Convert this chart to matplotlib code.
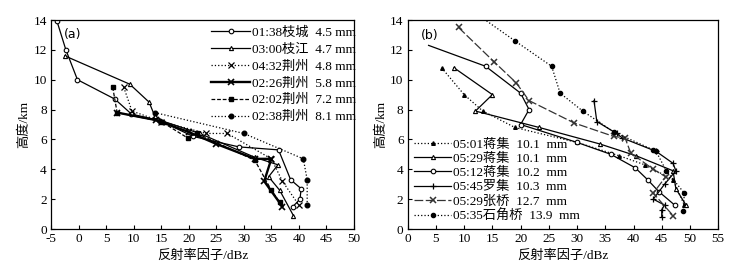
import matplotlib
matplotlib.use("Agg")
import matplotlib.pyplot as plt

plt.rcParams['font.family'] = ['Liberation Serif', 'Noto Sans CJK SC', 'DejaVu Sans']
plt.rcParams['font.size'] = 9
plt.rcParams['axes.unicode_minus'] = False

# ---------- panel (a) data ----------
a_labels = ["01:38枝城  4.5 mm", "03:00枝江  4.7 mm", "04:32荆州  4.8 mm",
            "02:26荆州  5.8 mm", "02:02荆州  7.2 mm", "02:38荆州  8.1 mm"]
a1_x = [-3.9, -2.3, -0.2, 6.6, 9.6, 14.8, 20.8, 29.1, 36.3, 38.5, 40.4, 40.2, 38.9]
a1_y = [13.9, 12.0, 10.0, 8.7, 7.7, 7.25, 6.2, 5.5, 5.3, 3.3, 2.7, 2.0, 1.5]
a2_x = [-2.5, 9.3, 12.8, 13.8, 15.5, 22.0, 32.0, 36.2, 34.5, 36.5, 39.0]
a2_y = [11.6, 9.7, 8.5, 7.6, 7.2, 6.4, 4.8, 4.3, 3.5, 2.6, 0.9]
a3_x = [8.2, 9.7, 15.0, 23.2, 27.0, 35.0, 37.0, 40.0]
a3_y = [9.5, 7.9, 7.2, 6.4, 6.4, 4.7, 3.2, 1.6]
a4_x = [7.0, 14.0, 20.0, 25.0, 32.0, 35.0, 33.7, 37.0]
a4_y = [7.8, 7.3, 6.5, 5.7, 4.7, 4.7, 3.2, 1.5]
a5_x = [6.2, 7.0, 15.0, 19.8, 21.5, 32.0, 35.0, 36.5]
a5_y = [9.5, 7.8, 7.2, 6.1, 6.4, 4.6, 2.6, 1.8]
a6_x = [13.8, 30.0, 40.8, 41.5, 41.5]
a6_y = [7.8, 6.4, 4.7, 3.3, 1.6]

# ---------- panel (b) data ----------
b_labels = ["05:01蒋集  10.1  mm", "05:29蒋集  10.1  mm", "05:12蒋集  10.2  mm",
            "05:45罗集  10.3  mm", "05:29张桥  12.7  mm", "05:35石角桥  13.9  mm"]
b1_x = [6.0, 10.0, 13.3, 19.0, 30.0, 37.5, 42.0, 47.0, 49.0]
b1_y = [10.8, 9.0, 7.9, 6.8, 5.8, 4.9, 4.3, 3.3, 1.6]
b2_x = [8.2, 15.0, 12.0, 23.3, 34.0, 40.5, 47.0, 47.5, 49.3]
b2_y = [10.8, 9.0, 7.9, 6.8, 5.7, 4.9, 3.9, 2.7, 1.6]
b3_x = [3.7, 13.8, 20.0, 21.5, 20.0, 30.0, 36.0, 40.3, 42.5, 44.5, 47.3]
b3_y = [12.3, 10.9, 9.1, 8.0, 7.0, 5.8, 5.0, 4.1, 3.3, 2.5, 1.6]
b4_x = [33.0, 33.5, 37.0, 38.0, 44.0, 47.0, 47.5, 45.5, 43.5, 45.5, 45.0, 45.0]
b4_y = [8.6, 7.2, 6.4, 6.1, 5.2, 4.4, 3.9, 3.0, 2.0, 1.6, 1.3, 0.8]
b5_x = [9.0, 15.3, 19.2, 21.5, 29.5, 36.5, 38.5, 39.5, 43.5, 45.7, 43.5, 47.0]
b5_y = [13.5, 11.2, 9.8, 8.6, 7.1, 6.2, 6.1, 5.1, 4.0, 3.5, 2.4, 0.9]
b6_x = [13.0, 19.0, 25.5, 27.0, 31.0, 36.5, 43.5, 44.0, 45.8, 49.0, 48.8]
b6_y = [14.2, 12.6, 10.9, 9.1, 7.9, 6.5, 5.3, 5.2, 3.9, 2.4, 1.2]

fig = plt.figure(figsize=(7.44, 2.78), dpi=100)
axa = fig.add_axes([51/744, 49/278, 303/744, 209/278])
axb = fig.add_axes([407.7/744, 49/278, 310.5/744, 209/278])

k = 'black'
axa.plot(a1_x, a1_y, '-', color=k, lw=0.9, marker='o', mfc='white', ms=3.3, mew=0.8, label=a_labels[0])
axa.plot(a2_x, a2_y, '-', color=k, lw=0.9, marker='^', mfc='white', ms=3, mew=0.8, label=a_labels[1])
axa.plot(a3_x, a3_y, ':', color=k, lw=0.9, marker='x', ms=4.5, mew=0.9, label=a_labels[2])
axa.plot(a4_x, a4_y, '-', color=k, lw=1.7, marker='x', ms=4.5, mew=1.2, label=a_labels[3])
axa.plot(a5_x, a5_y, '--', color=k, lw=0.9, dashes=(3, 1.5), marker='s', ms=2.2, label=a_labels[4])
axa.plot(a6_x, a6_y, ':', color=k, lw=0.9, marker='o', ms=3.3, label=a_labels[5])

axb.plot(b1_x, b1_y, ':', color=k, lw=0.9, marker='^', ms=2.6, label=b_labels[0])
axb.plot(b2_x, b2_y, '-', color=k, lw=0.9, marker='^', mfc='white', ms=3, mew=0.8, label=b_labels[1])
axb.plot(b3_x, b3_y, '-', color=k, lw=0.9, marker='o', mfc='white', ms=3.3, mew=0.8,
         markevery=list(range(1, len(b3_x))), label=b_labels[2])
axb.plot(b4_x, b4_y, '-', color=k, lw=0.9, marker='+', ms=5, mew=0.9, label=b_labels[3])
axb.plot(b5_x, b5_y, '-', color='#333333', lw=0.9, dashes=(7, 2), marker='x', ms=4, mew=1.1, label=b_labels[4])
axb.plot(b6_x, b6_y, ':', color=k, lw=0.9, marker='o', ms=3,
         markevery=list(range(1, len(b6_x))), label=b_labels[5])

for ax in (axa, axb):
    ax.set_ylim(0, 14)
    ax.set_yticks(range(0, 15, 2))
    ax.tick_params(direction='in', length=3, width=0.8, top=False, right=False, labelsize=9.5, pad=3)
    for s in ax.spines.values():
        s.set_linewidth(0.9)
    ax.set_xlabel("反射率因子/dBz", fontsize=9.5, labelpad=3)
    ax.set_ylabel("高度/km", fontsize=9.5, labelpad=2)

axa.set_xlim(-5, 50)
axa.set_xticks(range(-5, 51, 5))
axb.set_xlim(0, 55)
axb.set_xticks(range(0, 56, 5))

axa.text(-2.6, 12.8, "(a)", family='DejaVu Sans', fontsize=9)
axb.text(2.3, 12.75, "(b)", family='DejaVu Sans', fontsize=9)

axa.legend(loc='upper right', frameon=False, fontsize=9.5, handlelength=3.0, handletextpad=0.15,
           labelspacing=0.35, borderaxespad=0.1, bbox_to_anchor=(1.03, 1.0), numpoints=1)
axb.legend(loc='lower left', frameon=False, fontsize=9.5, handlelength=2.8, handletextpad=0.15,
           labelspacing=0.15, borderaxespad=0.1, bbox_to_anchor=(0.0, 0.0), numpoints=1)

fig.savefig("out.png", dpi=100)
